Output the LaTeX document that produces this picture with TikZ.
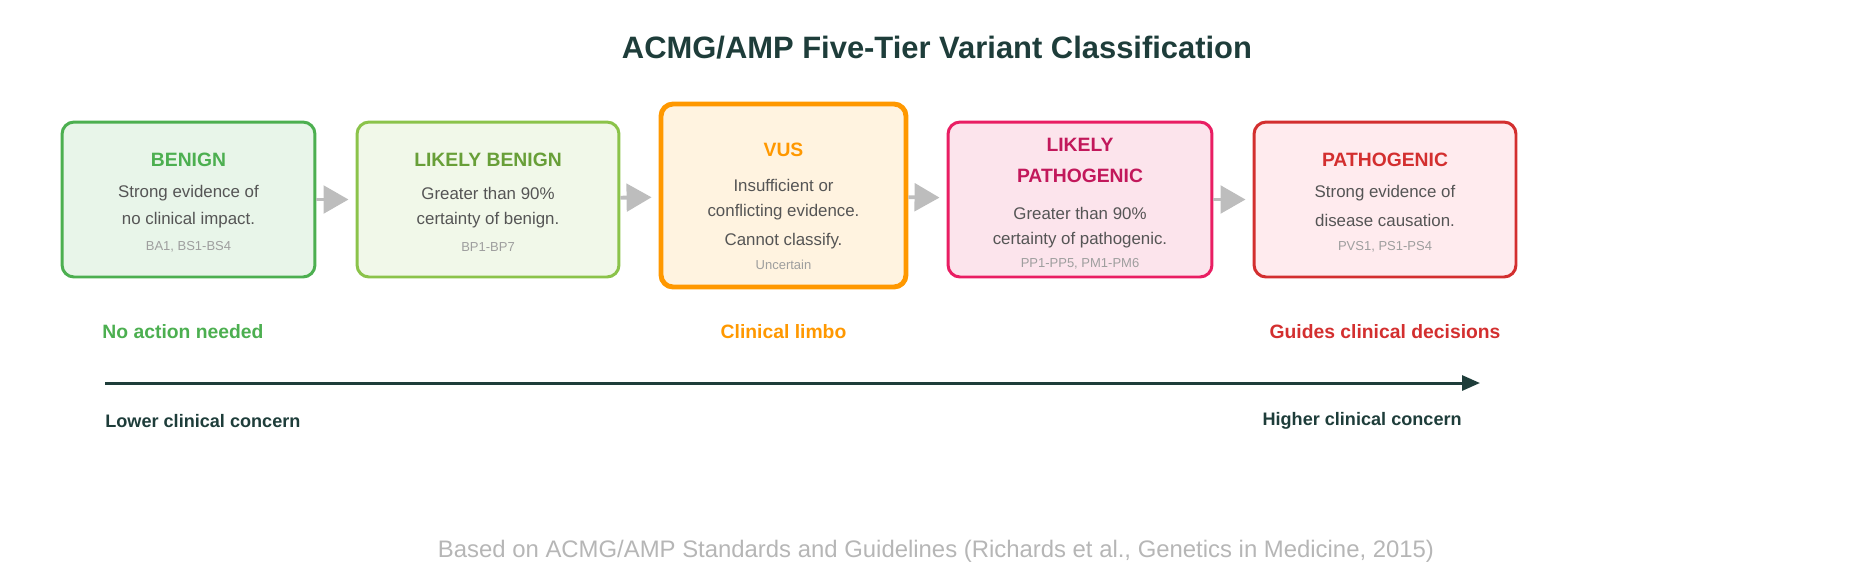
\documentclass[tikz,border=0pt]{standalone}
\usepackage{fontspec}
\setmainfont{Liberation Sans}
\usetikzlibrary{arrows.meta,positioning}
\definecolor{teal}{HTML}{1E3D3A}
\definecolor{bodygray}{HTML}{555555}
\definecolor{codegray}{HTML}{9E9E9E}
\definecolor{flowgray}{HTML}{BDBDBD}
\definecolor{bgreen}{HTML}{4CAF50}\definecolor{bgreenbg}{HTML}{E8F5E9}
\definecolor{lbgreen}{HTML}{8BC34A}\definecolor{lbgreenbg}{HTML}{F1F8E9}\definecolor{lbtitle}{HTML}{689F38}
\definecolor{vusor}{HTML}{FF9800}\definecolor{vusbg}{HTML}{FFF3E0}
\definecolor{lppink}{HTML}{E91E63}\definecolor{lpbg}{HTML}{FCE4EC}\definecolor{lptitle}{HTML}{C2185B}
\definecolor{pred}{HTML}{D32F2F}\definecolor{pbg}{HTML}{FFEBEE}
\tikzset{
  tier/.style={draw, rounded corners=0.24cm, line width=1.7pt, minimum height=3.1cm, inner sep=0pt},
  tiertitle/.style={font=\bfseries\fontsize{11}{13}\selectfont},
  tierbody/.style={text=bodygray, font=\fontsize{9.6}{11}\selectfont},
  tiercode/.style={text=codegray, font=\fontsize{7.4}{9}\selectfont},
  flow/.style={draw=flowgray, line width=2.2pt, -{Triangle[length=0.5cm, width=0.55cm]}, shorten >=0.14cm},
  note/.style={font=\bfseries\fontsize{11}{13}\selectfont},
  axisnote/.style={text=teal, font=\bfseries\fontsize{10.3}{12}\selectfont},
}
\begin{document}
\begin{tikzpicture}[x=0.02cm, y=-0.02cm]
\useasboundingbox (0,0) rectangle (1875,583);
\node[text=teal, font=\bfseries\fontsize{17.6}{20}\selectfont] (title) at (937,48) {ACMG/AMP Five-Tier Variant Classification};
% tier boxes
\node[tier, draw=bgreen, fill=bgreenbg, minimum width=5.06cm] (b1) at (188.5,199.5) {};
\node[tier, draw=lbgreen, fill=lbgreenbg, minimum width=5.24cm] (b2) at (488,199.5) {};
\node[tier, draw=vusor, fill=vusbg, minimum width=4.9cm, minimum height=3.66cm, line width=2.8pt] (b3) at (783.5,195.5) {};
\node[tier, draw=lppink, fill=lpbg, minimum width=5.28cm] (b4) at (1080,199.5) {};
\node[tier, draw=pred, fill=pbg, minimum width=5.24cm] (b5) at (1385,199.5) {};
\draw[flow] (b1) -- (b2);
\draw[flow] (b2) -- (b3);
\draw[flow] (b3) -- (b4);
\draw[flow] (b4) -- (b5);
% texts
\node[tiertitle, text=bgreen] (t1) at (188.5,160) {BENIGN};
\node[tierbody] (d1a) at (188.5,193) {Strong evidence of};
\node[tierbody] (d1b) at (188.5,220) {no clinical impact.};
\node[tiercode] (c1) at (188.5,247) {BA1, BS1-BS4};
\node[tiertitle, text=lbtitle] (t2) at (488,160) {LIKELY BENIGN};
\node[tierbody] (d2a) at (488,193) {Greater than 90\%};
\node[tierbody] (d2b) at (488,220) {certainty of benign.};
\node[tiercode] (c2) at (488,247) {BP1-BP7};
\node[tiertitle, text=vusor] (t3) at (783.5,150) {VUS};
\node[tierbody] (d3a) at (783.5,185) {Insufficient or};
\node[tierbody] (d3b) at (783.5,212) {conflicting evidence.};
\node[tierbody] (d3c) at (783.5,241) {Cannot classify.};
\node[tiercode] (c3) at (783.5,265) {Uncertain};
\node[tiertitle, text=lptitle] (t4a) at (1080,145) {LIKELY};
\node[tiertitle, text=lptitle] (t4b) at (1080,176) {PATHOGENIC};
\node[tierbody] (d4a) at (1080,213) {Greater than 90\%};
\node[tierbody] (d4b) at (1080,240) {certainty of pathogenic.};
\node[tiercode] (c4) at (1080,264) {PP1-PP5, PM1-PM6};
\node[tiertitle, text=pred] (t5) at (1385,160) {PATHOGENIC};
\node[tierbody] (d5a) at (1385,193) {Strong evidence of};
\node[tierbody] (d5b) at (1385,220) {disease causation.};
\node[tiercode] (c5) at (1385,247) {PVS1, PS1-PS4};
% outcomes
\node[note, text=bgreen] (n1) at (183,332) {No action needed};
\node[note, text=vusor] (n3) at (783.5,332) {Clinical limbo};
\node[note, text=pred] (n5) at (1385,332) {Guides clinical decisions};
% concern axis
\coordinate (lo) at (105,383);
\coordinate (hi) at (1480,383);
\draw[teal, line width=1.7pt, -{Triangle[length=0.36cm, width=0.3cm]}] (lo) -- (hi);
\node[axisnote, anchor=west, inner sep=0pt] (low) at (105,421) {Lower clinical concern};
\node[axisnote, anchor=east, inner sep=0pt] (high) at (1462,421) {Higher clinical concern};
\node[text=codegray!75, font=\fontsize{13.6}{15}\selectfont] (src) at (936,551) {Based on ACMG/AMP Standards and Guidelines (Richards et al., Genetics in Medicine, 2015)};
\end{tikzpicture}
\end{document}
